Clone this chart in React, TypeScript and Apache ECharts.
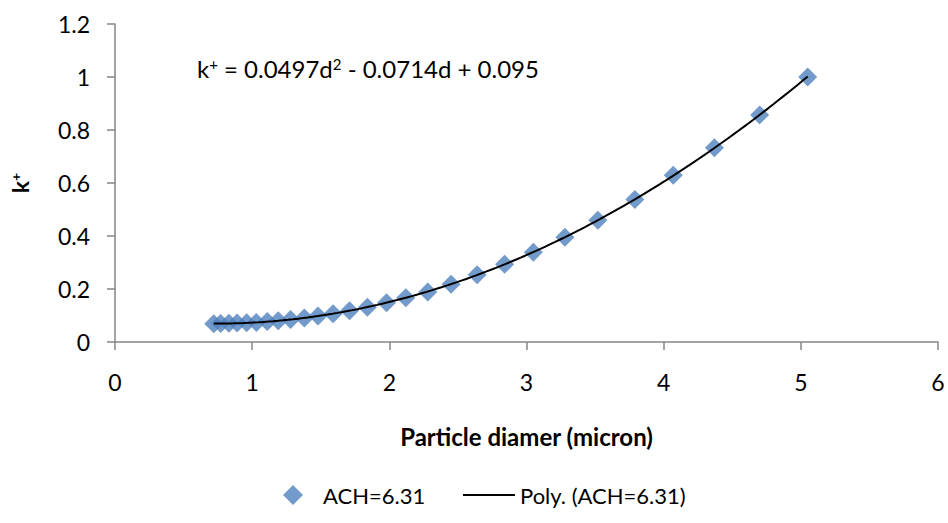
import React, { useEffect, useRef } from "react";
import * as echarts from "echarts";

const diameters = [0.72, 0.77, 0.83, 0.89, 0.96, 1.03, 1.11, 1.19, 1.28, 1.38, 1.48, 1.59, 1.71, 1.84, 1.98, 2.12, 2.28, 2.45, 2.64, 2.84, 3.05, 3.28, 3.52, 3.79, 4.07, 4.37, 4.70, 5.05];
const kPlus = [0.069, 0.070, 0.071, 0.072, 0.073, 0.074, 0.077, 0.080, 0.085, 0.091, 0.098, 0.107, 0.118, 0.131, 0.148, 0.167, 0.189, 0.218, 0.254, 0.293, 0.339, 0.395, 0.459, 0.538, 0.629, 0.733, 0.857, 1.0];
const polyCoefs = [0.0497, -0.0714, 0.095]; // a d^2 + b d + c
const seriesName = "ACH=6.31";
const trendName = "Poly. (ACH=6.31)";

const FONT = "Lato, 'Open Sans', sans-serif";

export default function App() {
  const ref = useRef<HTMLDivElement>(null);
  useEffect(() => {
    if (!ref.current) return;
    const chart = echarts.init(ref.current, undefined, { renderer: "svg" });
    const scatterData = diameters.map((d, i) => [d, kPlus[i]]);
    const dMin = diameters[0];
    const dMax = diameters[diameters.length - 1];
    const trend: number[][] = [];
    const steps = 120;
    for (let i = 0; i <= steps; i++) {
      const d = dMin + ((dMax - dMin) * i) / steps;
      trend.push([d, polyCoefs[0] * d * d + polyCoefs[1] * d + polyCoefs[2]]);
    }
    const axisGray = "#868686";
    chart.setOption({
      animation: false,
      backgroundColor: "#ffffff",
      textStyle: { fontFamily: FONT },
      grid: { left: 115, right: 10, top: 24, bottom: 181, containLabel: false },
      xAxis: {
        type: "value",
        min: 0,
        max: 6,
        interval: 1,
        name: "Particle diamer (micron)",
        nameLocation: "middle",
        nameGap: 82,
        nameTextStyle: { fontFamily: FONT, fontSize: 24, fontWeight: "bold", color: "#000" },
        axisLine: { show: true, onZero: false, lineStyle: { color: axisGray, width: 1.5 } },
        axisTick: { show: true, length: 8, lineStyle: { color: axisGray, width: 1.5 } },
        axisLabel: { margin: 28, fontSize: 23, color: "#000", fontFamily: FONT },
        splitLine: { show: false },
      },
      yAxis: {
        type: "value",
        min: 0,
        max: 1.2,
        interval: 0.2,
        name: "{k|k}{s|+}",
        nameLocation: "middle",
        nameGap: 83,
        nameRotate: 90,
        nameTextStyle: {
          color: "#000",
          rich: {
            k: { fontFamily: FONT, fontSize: 23, fontWeight: "bold", color: "#000" },
            s: { fontFamily: FONT, fontSize: 14, fontWeight: "bold", color: "#000", verticalAlign: "top", padding: [0, 0, 10, 0] },
          },
        },
        axisLine: { show: true, lineStyle: { color: axisGray, width: 1.5 } },
        axisTick: { show: true, length: 8, lineStyle: { color: axisGray, width: 1.5 } },
        axisLabel: { margin: 25, fontSize: 23, color: "#000", fontFamily: FONT },
        splitLine: { show: false },
      },
      legend: [
        {
          data: [{ name: seriesName, icon: "diamond" }],
          left: 278,
          top: 479,
          itemWidth: 20,
          itemHeight: 20,
          textStyle: { fontSize: 22, color: "#000", fontFamily: FONT, padding: [0, 0, 0, 15] },
          selectedMode: false,
        },
        {
          data: [{ name: trendName, icon: "rect" }],
          left: 458,
          top: 479,
          itemWidth: 52,
          itemHeight: 2,
          textStyle: { fontSize: 22, color: "#000", fontFamily: FONT, padding: [0, 0, 0, 0] },
          selectedMode: false,
        },
      ],
      graphic: [
        {
          type: "text",
          left: 197,
          top: 56,
          style: {
            text: "{t|k}{s|+}{t| = 0.0497d}{s|2}{t| - 0.0714d + 0.095}",
            rich: {
              t: { fontFamily: FONT, fontSize: 24, fill: "#000", color: "#000" },
              s: { fontFamily: FONT, fontSize: 15, fill: "#000", color: "#000", verticalAlign: "top", padding: [0, 0, 9, 0] },
            },
          },
        },
      ],
      series: [
        {
          name: seriesName,
          type: "scatter",
          data: scatterData,
          symbol: "diamond",
          symbolSize: 19,
          itemStyle: { color: "#4F81BD" },
          z: 2,
        },
        {
          name: trendName,
          type: "line",
          data: trend,
          symbol: "none",
          showSymbol: false,
          smooth: false,
          lineStyle: { color: "#000000", width: 2 },
          itemStyle: { color: "#000000" },
          z: 3,
        },
      ],
    });
    return () => chart.dispose();
  }, []);
  return <div ref={ref} style={{ position: "fixed", left: 0, top: 0, width: 948, height: 523 }} />;
}
